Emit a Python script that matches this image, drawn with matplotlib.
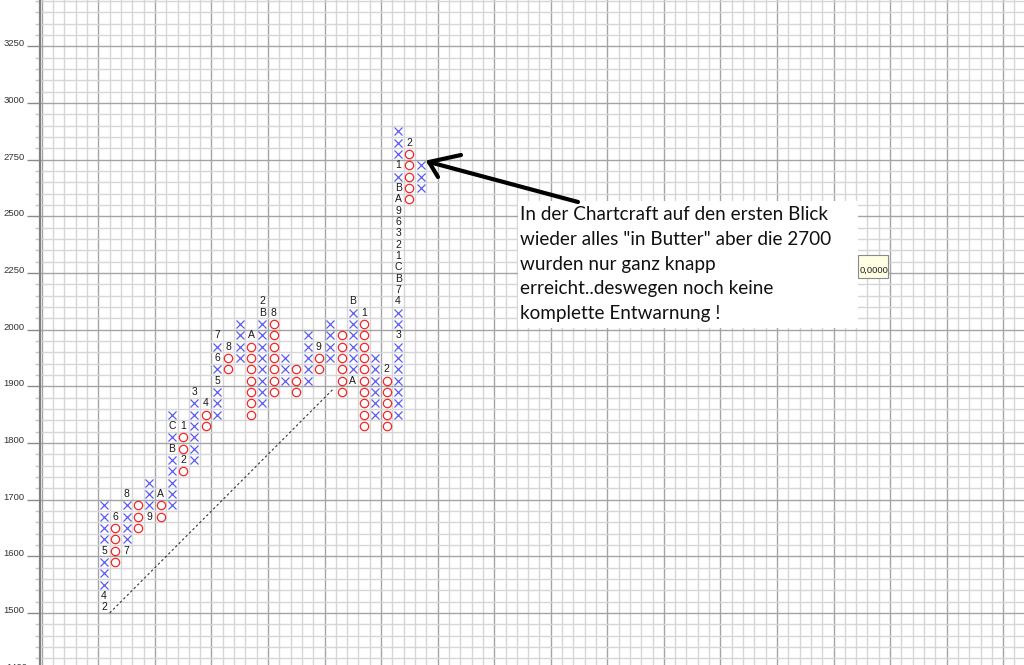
import numpy as np
import matplotlib
matplotlib.use('Agg')
import matplotlib.pyplot as plt
from matplotlib.patches import Rectangle
from matplotlib.lines import Line2D

# point & figure columns (box 20 up to 2000, box 50 above)
col_type = ['X', 'O'] * 14 + ['X']
col_low = [1500, 1580, 1600, 1640, 1660, 1660, 1680, 1740, 1760, 1820,
           1840, 1920, 1940, 1840, 1860, 1880, 1900, 1880, 1900, 1920,
           1940, 1880, 1900, 1820, 1840, 1820, 1840, 2550, 2600]
col_high = [1680, 1660, 1700, 1680, 1720, 1700, 1840, 1820, 1880, 1860,
            1980, 1960, 2000, 1980, 2100, 2050, 1940, 1920, 1980, 1960,
            2000, 1980, 2100, 2050, 1940, 1920, 2850, 2800, 2700]

# month markers that replace a box
mark_col = [0, 0, 0, 1, 2, 2, 4, 5, 6, 6, 7, 7, 8, 9, 10, 10, 10, 11, 13,
            14, 14, 15, 19, 22, 22, 23, 25,
            26, 26, 26, 26, 26, 26, 26, 26, 26, 26, 26, 26, 26, 27]
mark_val = [1500, 1520, 1600, 1660, 1600, 1700, 1660, 1700, 1780, 1820, 1820, 1760,
            1880, 1860, 1900, 1940, 1980, 1960, 1980, 2050, 2100, 2050, 1960,
            1900, 2100, 2050, 1920,
            1980, 2100, 2150, 2200, 2250, 2300, 2350, 2400, 2450, 2500, 2550,
            2600, 2700, 2800]
mark_txt = ['2', '4', '5', '6', '7', '8', '9', 'A', 'B', 'C', '1', '2', '3', '4',
            '5', '6', '7', '8', 'A', 'B', '2', '8', '9', 'A', 'B', '1', '2',
            '3', '4', '7', 'B', 'C', '1', '2', '3', '6', '9', 'A', 'B', '1', '2']

ylab_vals = [1500, 1600, 1700, 1800, 1900, 2000, 2250, 2500, 2750, 3000, 3250]

trend_x = [0.5, 20.3]

note_lines = ['In der Chartcraft auf den ersten Blick',
              'wieder alles "in Butter" aber die 2700',
              'wurden nur ganz knapp',
              'erreicht..deswegen noch keine',
              'komplette Entwarnung !']


def row(v):
    v = np.asarray(v, dtype=float)
    return np.where(v <= 2000, (v - 1400) / 20, 30 + (v - 2000) / 50)


fig = plt.figure(figsize=(10.24, 6.65), dpi=100)
ax = fig.add_axes([40/1024, 0, 984/1024, 1])
ax.set_xlim(-5.66, 81.34)
ax.set_ylim(-0.09, 58.6)

# grid
for xv in np.arange(-5.5, 82, 1):
    major = abs((xv + 0.5) % 5) < 1e-6
    ax.axvline(xv, color='#a4a4a4' if major else '#d6d6d6', lw=1.0, zorder=0)
for yv in np.arange(-0.5, 59, 1):
    major = abs((yv - 4.5) % 5) < 1e-6
    ax.axhline(yv, color='#a4a4a4' if major else '#d6d6d6', lw=1.0, zorder=0)

# boxes
for c in range(len(col_type)):
    rows = np.arange(int(row(col_low[c])), int(row(col_high[c])) + 1)
    used = [int(row(v)) for cc, v in zip(mark_col, mark_val) if cc == c]
    rows = [r for r in rows if r not in used]
    xs = [c] * len(rows)
    if col_type[c] == 'X':
        ax.plot(xs, rows, ls='none', marker='x', ms=6.2, mew=0.9, color='#5c5cf0')
    else:
        ax.plot(xs, rows, ls='none', marker='o', ms=6.0, mew=0.9, mfc='none', mec='#f02828')

for c, v, t in zip(mark_col, mark_val, mark_txt):
    ax.text(c, row(v), t, ha='center', va='center', fontsize=7.5,
            family='Liberation Sans', color='#1a1a1a')

# 45 degree trend line
tx = np.array(trend_x)
ax.plot(tx, 4.5 + (tx - 0.5), color='#333333', lw=0.8, ls=(0, (2.2, 2.2)))

# y axis
ax.set_xticks([])
ax.set_yticks(row(ylab_vals) - 0.5)
ax.set_yticklabels([str(v) for v in ylab_vals])
minor = [y for y in np.arange(-0.5, 59, 1) if abs((y - 4.5) % 5) > 1e-6]
ax.set_yticks(minor, minor=True)
ax.tick_params(axis='y', which='major', length=9.5, width=1, color='#8a8a8a',
               labelsize=6.8, labelcolor='#333333', pad=1.5)
ax.tick_params(axis='y', which='minor', length=3.5, width=1, color='#c8c8c8')
for lab in ax.get_yticklabels():
    lab.set_family('Liberation Sans')
    lab.set_verticalalignment('baseline')
ax.text(-0.013, -0.5, '1400', transform=ax.get_yaxis_transform(), ha='right',
        va='baseline', fontsize=6.8, family='Liberation Sans', color='#333333',
        clip_on=False)
for s in ['top', 'right', 'bottom']:
    ax.spines[s].set_visible(False)
ax.spines['left'].set_color('#808080')
ax.spines['left'].set_linewidth(1.6)


def fx(px):
    return np.asarray(px) / 1024


def fy(py):
    return 1 - np.asarray(py) / 665


# arrow
for xs, ys in [([578, 429], [202, 162]), ([429, 461], [162, 155]), ([429, 438], [162, 177])]:
    fig.add_artist(Line2D(fx(xs), fy(ys), transform=fig.transFigure, lw=3.0,
                          color='black', solid_capstyle='round'))

# comment box
fig.add_artist(Rectangle((fx(518), fy(328)), 340/1024, 127/665, transform=fig.transFigure,
                         facecolor='white', edgecolor='none'))
for i, line in enumerate(note_lines):
    fig.text(fx(520), fy(220 + 24.8 * i), line, fontsize=13.6, family='Lato',
             va='baseline', color='#111111')

# tooltip
fig.add_artist(Rectangle((fx(858), fy(278)), 30/1024, 23/665, transform=fig.transFigure,
                         facecolor='#ffffe3', edgecolor='#8a8a8a', lw=0.8))
fig.text(fx(859.5), fy(273), '0,0000', fontsize=6.8, family='Liberation Sans',
         va='baseline', color='#222222')

fig.savefig('out.png', dpi=100)
